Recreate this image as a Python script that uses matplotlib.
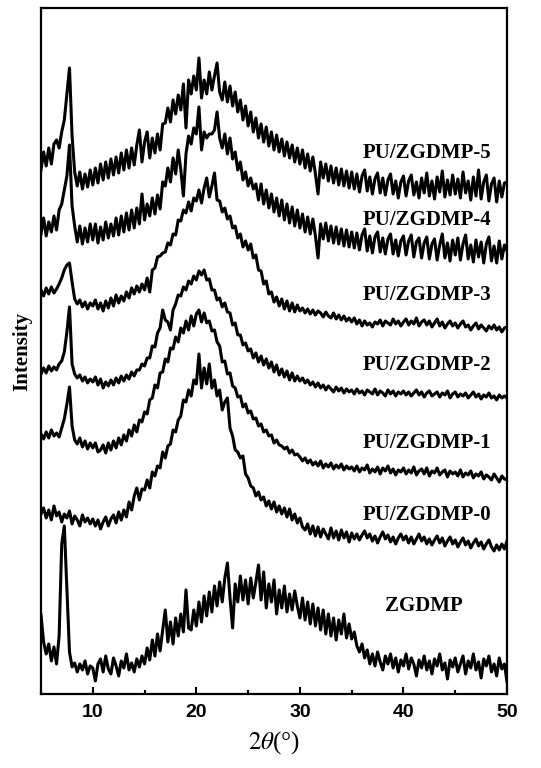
import numpy as np
import matplotlib
matplotlib.use('Agg')
import matplotlib.pyplot as plt
from matplotlib.ticker import MultipleLocator

plt.rcParams['mathtext.fontset'] = 'stix'

# 2-theta scan, 0.25 deg step from 5 to 50
two_theta = np.linspace(5, 50, 181)

# intensities (arbitrary units, already offset for stacking)
zgdmp = [
    79, 52, 40, 50, 33, 47, 30, 58, 150, 168, 105, 42, 27, 31, 22, 30, 24, 33, 20, 28,
    26, 13, 30, 35, 22, 38, 25, 20, 36, 28, 18, 33, 26, 40, 24, 31, 22, 35, 27, 38,
    30, 46, 34, 54, 38, 60, 43, 64, 84, 52, 72, 50, 76, 58, 80, 62, 104, 66, 64, 84,
    68, 92, 72, 98, 78, 102, 82, 108, 88, 112, 92, 116, 131, 96, 66, 110, 92, 118, 94, 114,
    90, 116, 96, 112, 129, 94, 122, 86, 110, 92, 114, 80, 104, 86, 108, 82, 100, 84, 103, 88,
    76, 96, 74, 92, 70, 90, 68, 86, 64, 84, 60, 80, 58, 76, 54, 74, 60, 80, 56, 70,
    55, 62, 48, 42, 50, 36, 44, 30, 40, 28, 42, 32, 24, 38, 30, 40, 26, 36, 22, 34,
    28, 40, 25, 36, 30, 18, 34, 26, 38, 24, 33, 20, 35, 28, 40, 24, 31, 15, 34, 27,
    36, 22, 30, 38, 20, 33, 26, 40, 24, 32, 16, 35, 28, 38, 22, 30, 18, 36, 25, 30,
    12]

pu0 = [
    180, 186, 176, 184, 174, 188, 178, 182, 172, 180, 176, 183, 170, 178, 174, 168, 179, 172, 176, 170,
    175, 168, 174, 165, 172, 177, 168, 175, 179, 171, 182, 174, 184, 177, 192, 184, 198, 206, 194, 205,
    204, 214, 206, 222, 218, 228, 226, 242, 236, 248, 250, 264, 262, 274, 278, 294, 292, 304, 298, 314,
    310, 340, 306, 326, 310, 330, 306, 314, 298, 304, 284, 292, 296, 266, 258, 244, 242, 236, 238, 220,
    216, 208, 206, 198, 202, 194, 197, 188, 193, 185, 192, 182, 188, 180, 186, 177, 185, 174, 180, 171,
    176, 167, 164, 170, 160, 168, 158, 167, 157, 165, 160, 155, 166, 156, 163, 154, 164, 156, 162, 152,
    161, 155, 160, 154, 159, 163, 156, 160, 153, 158, 151, 157, 162, 155, 159, 152, 157, 150, 156, 160,
    154, 158, 151, 157, 150, 155, 160, 153, 157, 150, 155, 149, 154, 158, 151, 156, 148, 153, 157, 150,
    154, 147, 152, 156, 149, 153, 146, 151, 155, 148, 152, 145, 150, 154, 147, 143, 149, 144, 150, 145,
    153]

pu1 = [
    260, 255, 262, 256, 264, 258, 261, 257, 266, 275, 290, 307, 268, 254, 250, 256, 247, 253, 245, 251,
    246, 251, 242, 244, 249, 241, 251, 244, 253, 246, 256, 249, 259, 253, 264, 258, 269, 262, 274, 272,
    282, 280, 294, 296, 309, 306, 321, 322, 335, 332, 346, 345, 357, 352, 366, 361, 373, 364, 378, 368,
    380, 384, 372, 381, 371, 373, 363, 364, 352, 348, 332, 333, 320, 321, 308, 306, 297, 298, 287, 290,
    281, 283, 275, 276, 268, 270, 262, 264, 258, 259, 251, 254, 249, 248, 245, 247, 241, 244, 239, 240,
    237, 233, 236, 231, 234, 229, 232, 228, 233, 226, 230, 227, 231, 225, 229, 226, 230, 224, 228, 225,
    227, 223, 228, 222, 226, 224, 229, 221, 225, 222, 227, 220, 226, 223, 228, 221, 225, 219, 224, 222,
    226, 220, 224, 221, 227, 219, 223, 225, 220, 226, 218, 223, 221, 226, 219, 222, 224, 217, 223, 220,
    222, 218, 224, 217, 221, 219, 223, 216, 220, 218, 222, 215, 219, 217, 214, 220, 216, 212, 218, 215,
    214]

pu2 = [
    320, 326, 321, 328, 323, 327, 324, 330, 333, 342, 362, 387, 330, 320, 316, 319, 313, 317, 311, 315,
    312, 317, 309, 315, 306, 312, 308, 314, 309, 316, 311, 318, 313, 319, 315, 322, 318, 324, 324, 330,
    328, 336, 336, 348, 347, 361, 366, 384, 374, 372, 364, 384, 390, 399, 398, 407, 404, 413, 410, 418,
    414, 423, 419, 424, 414, 415, 404, 404, 394, 396, 387, 391, 382, 381, 369, 371, 359, 359, 349, 351,
    343, 345, 336, 341, 332, 338, 329, 335, 326, 332, 322, 329, 319, 325, 317, 323, 314, 321, 313, 318,
    313, 316, 311, 314, 309, 312, 307, 311, 306, 309, 304, 308, 305, 302, 307, 303, 306, 301, 305, 302,
    304, 300, 305, 301, 303, 299, 304, 302, 300, 305, 299, 303, 301, 298, 304, 300, 303, 298, 302, 300,
    303, 299, 302, 298, 301, 304, 299, 302, 297, 301, 303, 298, 300, 302, 297, 301, 299, 303, 296, 300,
    302, 297, 300, 298, 301, 296, 299, 302, 297, 300, 295, 299, 297, 301, 296, 298, 294, 299, 296, 298,
    296]

pu3 = [
    404, 398, 406, 400, 407, 401, 405, 410, 416, 424, 429, 431, 412, 395, 390, 394, 387, 392, 385, 391,
    388, 394, 385, 391, 383, 393, 386, 396, 388, 399, 391, 398, 393, 402, 396, 406, 400, 408, 402, 410,
    404, 416, 402, 424, 426, 437, 438, 441, 442, 451, 449, 460, 459, 474, 473, 484, 481, 492, 483, 496,
    493, 504, 491, 506, 516, 497, 508, 521, 494, 493, 482, 486, 475, 478, 466, 468, 456, 460, 447, 453,
    444, 450, 436, 439, 424, 423, 410, 413, 400, 402, 392, 397, 388, 395, 385, 393, 383, 391, 382, 389,
    383, 386, 381, 385, 380, 384, 379, 383, 381, 377, 382, 378, 376, 381, 375, 379, 374, 378, 373, 376,
    372, 376, 370, 374, 368, 373, 369, 371, 367, 372, 370, 374, 368, 373, 371, 369, 375, 370, 373, 368,
    372, 375, 369, 373, 370, 376, 368, 372, 374, 369, 373, 367, 371, 375, 368, 372, 366, 370, 373, 368,
    371, 366, 370, 373, 367, 369, 364, 368, 371, 365, 369, 366, 363, 368, 365, 369, 364, 367, 362, 366,
    367]

pu4 = [
    460, 476, 458, 472, 462, 478, 464, 484, 490, 504, 518, 549, 488, 468, 452, 468, 450, 466, 452, 470,
    454, 470, 451, 467, 454, 472, 456, 470, 458, 476, 459, 478, 462, 481, 464, 484, 466, 486, 470, 500,
    474, 490, 478, 496, 480, 499, 485, 512, 508, 526, 512, 536, 520, 544, 524, 498, 540, 558, 550, 566,
    560, 587, 544, 562, 556, 560, 560, 564, 582, 556, 546, 560, 540, 556, 535, 542, 524, 532, 514, 522,
    508, 516, 505, 510, 494, 510, 490, 504, 486, 500, 482, 496, 478, 494, 474, 490, 471, 487, 468, 484,
    466, 480, 462, 477, 460, 475, 458, 436, 470, 455, 471, 453, 468, 451, 467, 450, 465, 448, 464, 447,
    462, 446, 461, 444, 459, 465, 443, 458, 441, 457, 462, 442, 456, 440, 455, 460, 440, 454, 438, 453,
    458, 439, 453, 459, 437, 452, 456, 436, 451, 457, 435, 450, 455, 434, 449, 460, 436, 451, 433, 454,
    439, 456, 434, 450, 459, 435, 449, 432, 454, 437, 452, 431, 450, 457, 433, 448, 431, 453, 435, 449,
    443]

pu5 = [
    524, 542, 528, 546, 530, 550, 554, 546, 562, 574, 600, 626, 558, 522, 508, 522, 505, 520, 507, 524,
    509, 526, 511, 530, 514, 532, 516, 535, 519, 537, 521, 541, 524, 544, 526, 546, 529, 549, 564, 532,
    552, 562, 536, 556, 541, 560, 544, 570, 571, 586, 572, 594, 580, 599, 584, 610, 566, 614, 600, 618,
    604, 636, 596, 614, 600, 622, 604, 618, 631, 602, 594, 612, 592, 608, 588, 602, 582, 594, 574, 588,
    568, 582, 562, 576, 556, 570, 552, 567, 548, 562, 544, 559, 542, 555, 538, 552, 536, 549, 532, 546,
    530, 544, 526, 540, 523, 537, 520, 500, 532, 516, 530, 513, 528, 511, 526, 509, 525, 508, 523, 506,
    522, 505, 520, 502, 518, 524, 503, 517, 500, 515, 521, 501, 516, 499, 514, 520, 500, 513, 496, 512,
    518, 498, 513, 519, 499, 512, 496, 516, 501, 521, 498, 513, 495, 517, 502, 523, 497, 514, 499, 519,
    500, 515, 496, 522, 501, 513, 494, 517, 498, 524, 495, 512, 519, 493, 510, 516, 492, 513, 497, 511,
    512]

curves = [zgdmp, pu0, pu1, pu2, pu3, pu4, pu5]
names = ['ZGDMP', 'PU/ZGDMP-0', 'PU/ZGDMP-1', 'PU/ZGDMP-2',
         'PU/ZGDMP-3', 'PU/ZGDMP-4', 'PU/ZGDMP-5']
label_x = [42.0, 42.3, 42.3, 42.3, 42.3, 42.3, 42.3]
label_y = [88, 179, 251, 329, 399, 474, 541]

fig = plt.figure(figsize=(5.41, 7.68), dpi=100)
ax = fig.add_axes([0.0758, 0.0964, 0.8614, 0.8932])

for c in curves:
    ax.plot(two_theta, c, color='black', lw=2.2)

for name, lx, ly in zip(names, label_x, label_y):
    ax.text(lx, ly, name, ha='center', va='center', fontsize=15,
            fontweight='bold', family='Liberation Serif')

ax.set_xlim(5, 50)
ax.set_ylim(0, 686)
ax.xaxis.set_major_locator(MultipleLocator(10))
ax.xaxis.set_minor_locator(MultipleLocator(5))
ax.tick_params(axis='x', which='major', direction='in', length=5, width=1.5,
               top=False, pad=7)
ax.tick_params(axis='x', which='minor', direction='in', length=3, width=1.5,
               top=False)
ax.set_yticks([])
for lab in ax.get_xticklabels():
    lab.set_fontsize(14)
    lab.set_fontweight('bold')
    lab.set_family('Liberation Sans')
for sp in ax.spines.values():
    sp.set_linewidth(1.6)

ax.set_xlabel(r'$2\theta$(°)', fontsize=18, family='Liberation Serif', labelpad=6)
ax.set_ylabel('Intensity', fontsize=15, fontweight='bold',
              family='Liberation Serif', labelpad=6)

fig.savefig('out.png', dpi=100)
